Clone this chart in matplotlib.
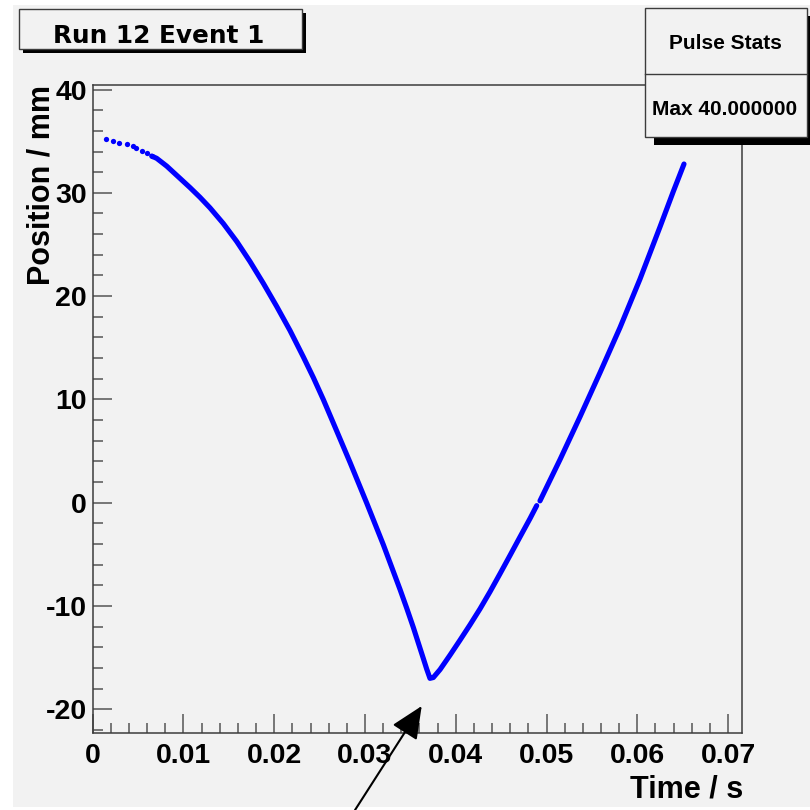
import numpy as np
import matplotlib
matplotlib.use('Agg')
import matplotlib.pyplot as plt
from matplotlib.patches import Rectangle
from matplotlib.ticker import FixedLocator, MultipleLocator

# sparse dots at the start of the pulse
head_time = [0.00147, 0.0022, 0.00286, 0.00381, 0.00441, 0.00477, 0.00543, 0.00595, 0.0065]
head_pos = [35.18, 34.99, 34.85, 34.72, 34.53, 34.34, 34.08, 33.82, 33.56]

# dense part of the curve (nan = small gap near zero crossing)
curve_time = [0.0065, 0.00705, 0.00815, 0.00925, 0.01072, 0.01182, 0.01292, 0.01439,
              0.01587, 0.01733, 0.0188, 0.02027, 0.02174, 0.0232, 0.02431, 0.02541,
              0.02651, 0.02835, 0.03019, 0.03202, 0.03386, 0.0346, 0.03532, 0.03588,
              0.03643, 0.0368, 0.03716, 0.03753, 0.03827, 0.03937, 0.04047, 0.04157,
              0.04267, 0.04378, 0.04488, 0.04598, 0.04708, 0.04819, 0.04892, np.nan,
              0.04928, 0.05149, 0.05369, 0.0559, 0.0581, 0.0603, 0.0625, 0.06397, 0.06515]
curve_pos = [33.56, 33.34, 32.59, 31.70, 30.51, 29.57, 28.55, 27.03,
             25.29, 23.35, 21.24, 19.01, 16.67, 14.13, 12.12, 9.99,
             7.72, 3.91, -0.03, -4.06, -8.39, -10.21, -12.05, -13.58,
             -15.08, -16.1, -17.0, -16.92, -16.15, -14.75, -13.3, -11.82,
             -10.28, -8.61, -6.87, -5.10, -3.31, -1.52, -0.28, np.nan,
             0.18, 4.18, 8.32, 12.6, 16.96, 21.65, 26.69, 30.13, 32.79]

xticks = [0, 0.01, 0.02, 0.03, 0.04, 0.05, 0.06, 0.07]
xtick_labels = ['0', '0.01', '0.02', '0.03', '0.04', '0.05', '0.06', '0.07']
yticks = [-20, -10, 0, 10, 20, 30, 40]
ytick_labels = ['-20', '-10', '0', '10', '20', '30', '40']

title_text = 'Run 12 Event 1'
stats_title = 'Pulse Stats'
stats_line = 'Max 40.000000'
arrow_tip = (0.03625, -19.68)
arrow_tail = (0.0289, -29.75)

W = H = 810
BG = '#f2f2f2'
EDGE = '#3c3c3c'
FONT = ['Liberation Sans', 'DejaVu Sans']


def fx(x):
    return x / W


def fy(y):
    return 1 - y / H


fig = plt.figure(figsize=(8.1, 8.1), dpi=100, facecolor='white')
fig.add_artist(Rectangle((fx(13), fy(807)), fx(810 - 13), (807 - 5) / H,
                         transform=fig.transFigure, facecolor=BG, edgecolor='none', zorder=-5))

ax = fig.add_axes([fx(92.7), fy(733.3), (742 - 92.7) / W, (733.3 - 85.3) / H])
ax.set_facecolor(BG)

ax.plot(head_time, head_pos, 'o', color='#0000ff', ms=3.8, mec='none')
ax.plot(curve_time, curve_pos, '-', color='#0000ff', lw=3.7,
        solid_capstyle='round', solid_joinstyle='round')

ax.set_xlim(0, 0.07154)
ax.set_ylim(-22.32, 40.41)

ax.xaxis.set_major_locator(FixedLocator(xticks))
ax.set_xticklabels(xtick_labels)
ax.yaxis.set_major_locator(FixedLocator(yticks))
ax.set_yticklabels(ytick_labels)
ax.xaxis.set_minor_locator(MultipleLocator(0.002))
ax.yaxis.set_minor_locator(MultipleLocator(2))

ax.tick_params(which='both', direction='in', top=False, right=False, color='#555555', width=1.1)
ax.tick_params(which='major', length=13.7)
ax.tick_params(which='minor', length=7.2)
ax.tick_params(axis='x', pad=7)
ax.tick_params(axis='y', pad=4.3)
for lab in ax.get_xticklabels() + ax.get_yticklabels():
    lab.set_family(FONT)
    lab.set_fontweight('bold')
    lab.set_fontsize(20.5)

for s in ax.spines.values():
    s.set_color(EDGE)
    s.set_linewidth(1.1)

ax.annotate('', xy=arrow_tip, xytext=arrow_tail, annotation_clip=False,
            arrowprops=dict(arrowstyle='-|>,head_length=1.0,head_width=0.45',
                            mutation_scale=20, color='black', lw=1.5,
                            shrinkA=0, shrinkB=0))

# axis titles
fig.text(fx(743), fy(798), 'Time / s', ha='right', va='baseline',
         family=FONT, fontweight='bold', fontsize=22)
fig.text(fx(50), fy(85), 'Position / mm', rotation=90, rotation_mode='anchor',
         ha='right', va='baseline', family=FONT, fontweight='bold', fontsize=22)

# title box
fig.add_artist(Rectangle((fx(23), fy(53)), fx(283), 40 / H, transform=fig.transFigure,
                         facecolor='black', edgecolor='none', zorder=2))
fig.add_artist(Rectangle((fx(19), fy(49)), fx(283), 40 / H, transform=fig.transFigure,
                         facecolor=BG, edgecolor=EDGE, lw=1, zorder=2.1))
fig.text(fx(159), fy(43), title_text, ha='center', va='baseline',
         family=['DejaVu Sans'], fontweight='bold', fontsize=17.8, zorder=3)

# stats box
fig.add_artist(Rectangle((fx(654), fy(145)), fx(170), 129 / H, transform=fig.transFigure,
                         facecolor='black', edgecolor='none', zorder=2))
fig.add_artist(Rectangle((fx(645), fy(137)), fx(162), 129 / H, transform=fig.transFigure,
                         facecolor=BG, edgecolor=EDGE, lw=1, zorder=2.1))
fig.add_artist(plt.Line2D([fx(645), fx(807)], [fy(74), fy(74)], transform=fig.transFigure,
                          color=EDGE, lw=1, zorder=2.2))
fig.text(fx(725), fy(49), stats_title, ha='center', va='baseline',
         family=FONT, fontweight='bold', fontsize=15, zorder=3)
fig.text(fx(725), fy(115), stats_line, ha='center', va='baseline',
         family=FONT, fontweight='bold', fontsize=15, zorder=3)

fig.savefig('out.png', dpi=100, facecolor='white')
